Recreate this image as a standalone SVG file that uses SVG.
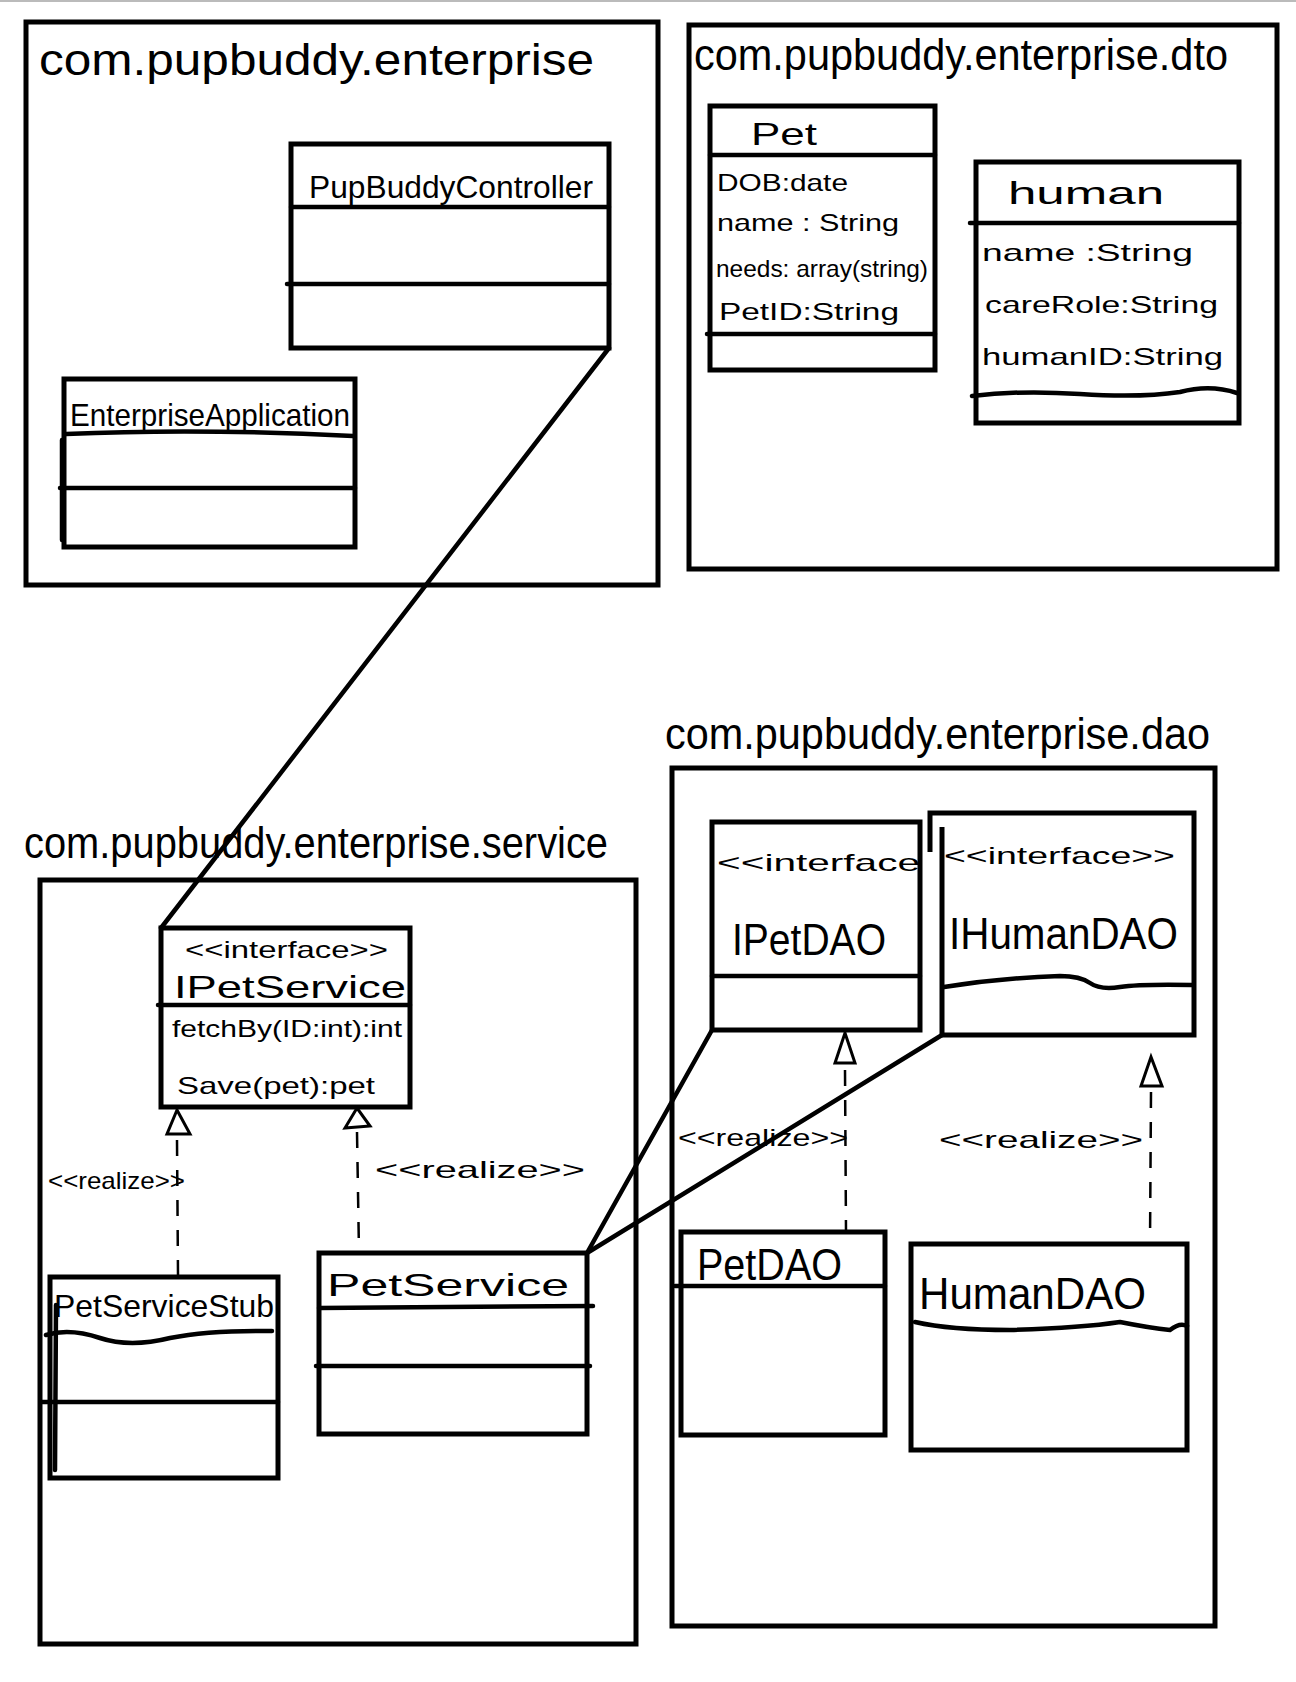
<svg xmlns="http://www.w3.org/2000/svg" width="1296" height="1682" viewBox="0 0 1296 1682">
<style>
.box{fill:none;stroke:#000;stroke-width:5;stroke-linejoin:miter}
.ln{fill:none;stroke:#000;stroke-width:4.5;stroke-linecap:round}
.dash{fill:none;stroke:#000;stroke-width:2.5;stroke-dasharray:16 14}
.tri{fill:#fff;stroke:#000;stroke-width:3}
text{font-family:"Liberation Sans","DejaVu Sans",sans-serif;fill:#000}
.pkg{font-size:44px}
.nm{font-size:32px}
.at{font-size:24px}
.st{font-size:24px}
</style>
<rect width="1296" height="1682" fill="#fff"/>
<line x1="0" y1="1" x2="1296" y2="1" stroke="#bbb" stroke-width="2"/>

<g id="pkg-enterprise">
<rect class="box" x="26" y="22" width="632" height="563"/>
<text class="pkg" x="39" y="75" textLength="555" lengthAdjust="spacingAndGlyphs">com.pupbuddy.enterprise</text>
</g>
<g id="PupBuddyController">
<rect class="box" x="291" y="144" width="318" height="204"/>
<line class="ln" x1="291" y1="207" x2="609" y2="207"/>
<line class="ln" x1="287" y1="284" x2="609" y2="284"/>
<text class="nm" x="309" y="198" textLength="284" lengthAdjust="spacingAndGlyphs">PupBuddyController</text>
</g>
<g id="EnterpriseApplication">
<rect class="box" x="64" y="379" width="291" height="168"/>
<path class="ln" d="M66 434 Q200 428 353 436"/>
<line class="ln" x1="60" y1="488" x2="355" y2="488"/>
<line class="ln" x1="62" y1="440" x2="62" y2="540"/>
<text class="nm" x="70" y="426" textLength="280" lengthAdjust="spacingAndGlyphs">EnterpriseApplication</text>
</g>

<g id="pkg-dto">
<rect class="box" x="689" y="25" width="588" height="544"/>
<text class="pkg" x="694" y="70" textLength="534" lengthAdjust="spacingAndGlyphs">com.pupbuddy.enterprise.dto</text>
</g>
<g id="Pet">
<rect class="box" x="710" y="106" width="225" height="264"/>
<line class="ln" x1="710" y1="155" x2="935" y2="155"/>
<line class="ln" x1="707" y1="334" x2="935" y2="334"/>
<text class="nm" x="751" y="145" textLength="66" lengthAdjust="spacingAndGlyphs">Pet</text>
<text class="at" x="717" y="191" textLength="131" lengthAdjust="spacingAndGlyphs">DOB:date</text>
<text class="at" x="717" y="231" textLength="182" lengthAdjust="spacingAndGlyphs">name : String</text>
<text class="at" x="716" y="277" textLength="212" lengthAdjust="spacingAndGlyphs">needs: array(string)</text>
<text class="at" x="719" y="320" textLength="180" lengthAdjust="spacingAndGlyphs">PetID:String</text>
</g>
<g id="human">
<rect class="box" x="976" y="162" width="263" height="261"/>
<line class="ln" x1="970" y1="223" x2="1239" y2="223"/>
<path class="ln" d="M972 396 Q1020 390 1080 394 T1180 392 Q1210 384 1237 393"/>
<text class="nm" x="1008" y="204" font-size="36" textLength="156" lengthAdjust="spacingAndGlyphs">human</text>
<text class="at" x="982" y="261" font-size="28" textLength="211" lengthAdjust="spacingAndGlyphs">name :String</text>
<text class="at" x="985" y="313" font-size="28" textLength="233" lengthAdjust="spacingAndGlyphs">careRole:String</text>
<text class="at" x="982" y="365" font-size="28" textLength="241" lengthAdjust="spacingAndGlyphs">humanID:String</text>
</g>

<g id="pkg-service">
<rect class="box" x="40" y="880" width="596" height="764"/>
<text class="pkg" x="24" y="858" textLength="584" lengthAdjust="spacingAndGlyphs">com.pupbuddy.enterprise.service</text>
</g>
<g id="IPetService">
<rect class="box" x="161" y="928" width="249" height="179"/>
<line class="ln" x1="158" y1="1005" x2="410" y2="1005"/>
<text class="st" x="185" y="958" textLength="203" lengthAdjust="spacingAndGlyphs">&lt;&lt;interface&gt;&gt;</text>
<text class="nm" x="174" y="998" textLength="232" lengthAdjust="spacingAndGlyphs">IPetService</text>
<text class="at" x="172" y="1037" textLength="230" lengthAdjust="spacingAndGlyphs">fetchBy(ID:int):int</text>
<text class="at" x="177" y="1094" font-size="28" textLength="198" lengthAdjust="spacingAndGlyphs">Save(pet):pet</text>
</g>
<g id="PetServiceStub">
<rect class="box" x="50" y="1277" width="228" height="201"/>
<path class="ln" d="M46 1335 Q70 1328 100 1338 T170 1338 Q210 1330 272 1331"/>
<line class="ln" x1="42" y1="1402" x2="278" y2="1402"/>
<line class="ln" x1="56" y1="1305" x2="55" y2="1470"/>
<text class="nm" x="54" y="1317" font-size="28" textLength="220" lengthAdjust="spacingAndGlyphs">PetServiceStub</text>
</g>
<g id="PetService">
<rect class="box" x="319" y="1253" width="268" height="181"/>
<line class="ln" x1="319" y1="1308" x2="593" y2="1306" stroke-width="7"/>
<line class="ln" x1="316" y1="1366" x2="590" y2="1366"/>
<text class="nm" x="327" y="1296" font-size="40" textLength="242" lengthAdjust="spacingAndGlyphs">PetService</text>
</g>

<g id="pkg-dao">
<rect class="box" x="672" y="768" width="543" height="858"/>
<text class="pkg" x="665" y="749" textLength="545" lengthAdjust="spacingAndGlyphs">com.pupbuddy.enterprise.dao</text>
</g>
<g id="IPetDAO">
<rect class="box" x="712" y="822" width="208" height="208"/>
<line class="ln" x1="712" y1="976" x2="920" y2="976"/>
<text class="st" x="717" y="871" font-size="28" textLength="203" lengthAdjust="spacingAndGlyphs">&lt;&lt;interface</text>
<text class="pkg" x="732" y="955" textLength="154" lengthAdjust="spacingAndGlyphs">IPetDAO</text>
</g>
<g id="IHumanDAO">
<polyline class="box" points="930,852 930,813 1194,813 1194,1035 942,1035 942,827"/>
<path class="ln" d="M944 987 Q1000 978 1060 976 Q1080 976 1090 983 Q1100 990 1120 987 T1192 985"/>
<text class="st" x="944" y="864" font-size="28" textLength="231" lengthAdjust="spacingAndGlyphs">&lt;&lt;interface&gt;&gt;</text>
<text class="pkg" x="949" y="949" textLength="229" lengthAdjust="spacingAndGlyphs">IHumanDAO</text>
</g>
<g id="PetDAO">
<rect class="box" x="681" y="1232" width="204" height="203"/>
<line class="ln" x1="675" y1="1286" x2="885" y2="1286"/>
<text class="pkg" x="697" y="1280" font-size="40" textLength="145" lengthAdjust="spacingAndGlyphs">PetDAO</text>
</g>
<g id="HumanDAO">
<rect class="box" x="911" y="1244" width="276" height="206"/>
<path class="ln" d="M915 1322 Q950 1330 1010 1330 Q1080 1328 1120 1322 Q1150 1328 1170 1330 Q1180 1322 1187 1326"/>
<text class="pkg" x="919" y="1309" textLength="227" lengthAdjust="spacingAndGlyphs">HumanDAO</text>
</g>

<g id="connectors">
<line class="ln" x1="609" y1="348" x2="161" y2="928"/>
<line class="ln" x1="587" y1="1253" x2="712" y2="1030"/>
<line class="ln" x1="587" y1="1253" x2="942" y2="1035"/>
<line class="dash" x1="177" y1="1140" x2="178" y2="1275"/>
<path class="tri" d="M177 1110 L167 1134 L190 1134 Z"/>
<text class="st" x="48" y="1189" font-size="18" textLength="137" lengthAdjust="spacingAndGlyphs">&lt;&lt;realize&gt;&gt;</text>
<line class="dash" x1="357" y1="1132" x2="359" y2="1253"/>
<path class="tri" d="M357 1108 L345 1128 L370 1126 Z"/>
<text class="st" x="375" y="1178" font-size="28" textLength="210" lengthAdjust="spacingAndGlyphs">&lt;&lt;realize&gt;&gt;</text>
<line class="dash" x1="845" y1="1070" x2="846" y2="1232"/>
<path class="tri" d="M845 1033 L835 1063 L855 1063 Z"/>
<text class="st" x="678" y="1146" font-size="26" textLength="170" lengthAdjust="spacingAndGlyphs">&lt;&lt;realize&gt;&gt;</text>
<line class="dash" x1="1151" y1="1092" x2="1150" y2="1244"/>
<path class="tri" d="M1151 1057 L1141 1086 L1162 1086 Z"/>
<text class="st" x="939" y="1148" font-size="26" textLength="204" lengthAdjust="spacingAndGlyphs">&lt;&lt;realize&gt;&gt;</text>
</g>
</svg>
